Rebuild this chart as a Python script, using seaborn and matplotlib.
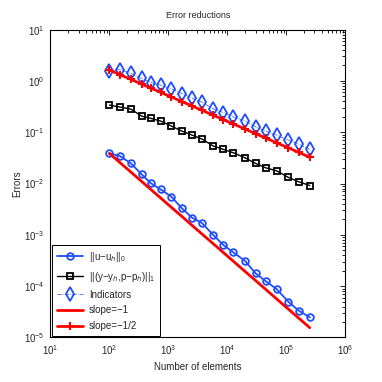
import matplotlib
matplotlib.use("Agg")
import matplotlib.pyplot as plt
import seaborn as sns
from matplotlib.ticker import LogLocator, NullFormatter

# element counts per refinement step
n_elements = [100, 151, 232, 352, 507, 740, 1124, 1700, 2510, 3710,
              5780, 8550, 12600, 19800, 30100, 44400, 68300, 108000, 163000, 250000]

err_l2 = [0.0387, 0.0343, 0.0247, 0.0151, 0.0101, 0.0077, 0.00553, 0.00329, 0.00216, 0.0017,
          0.000993, 0.000634, 0.000456, 0.000313, 0.000178, 0.000126, 8.8e-5, 4.98e-5, 3.33e-5, 2.47e-5]

err_h1 = [0.338, 0.309, 0.282, 0.206, 0.186, 0.165, 0.132, 0.105, 0.0881, 0.0736,
          0.0538, 0.0463, 0.0398, 0.0318, 0.0247, 0.0203, 0.0177, 0.0132, 0.0108, 0.00914]

indicators = [1.59, 1.66, 1.40, 1.12, 0.929, 0.830, 0.694, 0.567, 0.463, 0.386,
              0.285, 0.242, 0.200, 0.167, 0.128, 0.105, 0.0881, 0.0703, 0.0587, 0.0463]

slope_one = [0.0387, 0.0256, 0.0167, 0.0110, 0.00763, 0.00523, 0.00344, 0.00228, 0.00154, 0.00104,
             0.00067, 0.000453, 0.000307, 0.000195, 0.000129, 8.72e-5, 5.67e-5, 3.58e-5, 2.37e-5, 1.55e-5]

slope_half = [1.63, 1.326, 1.070, 0.869, 0.724, 0.599, 0.486, 0.395, 0.325, 0.268,
              0.214, 0.176, 0.145, 0.116, 0.094, 0.0774, 0.0624, 0.0496, 0.0404, 0.0326]

x_ticks = [1e1, 1e2, 1e3, 1e4, 1e5, 1e6]
y_ticks = [1e-5, 1e-4, 1e-3, 1e-2, 1e-1, 1e0, 1e1]

sns.set_style("white")
plt.rcParams["font.family"] = ["Liberation Sans", "DejaVu Sans"]
plt.rcParams["mathtext.fontset"] = "custom"
plt.rcParams["mathtext.rm"] = "Liberation Sans"

blue = "#1f4cff"

fig = plt.figure(figsize=(3.82, 3.82), dpi=100)
ax = fig.add_axes([0.132, 0.1165, 0.772, 0.806])

sns.lineplot(x=n_elements, y=err_l2, ax=ax, color=blue, lw=1.3, marker="o", ms=4.8,
             mfc="none", mec=blue, mew=1.3, label="||u\u2212u$_h$||$_0$")
sns.lineplot(x=n_elements, y=err_h1, ax=ax, color="black", lw=1.0, marker="s", ms=4.2,
             mfc="none", mec="black", mew=1.3, label="||(y\u2212y$_h$,p\u2212p$_h$)||$_1$")
sns.lineplot(x=n_elements, y=indicators, ax=ax, color=blue, lw=0.5, ls="-.", marker="d", ms=7,
             mfc="none", mec=blue, mew=1.3, label="Indicators")
sns.lineplot(x=n_elements, y=slope_one, ax=ax, color="red", lw=2.0, label="slope=\u22121")
sns.lineplot(x=n_elements, y=slope_half, ax=ax, color="red", lw=2.0, marker="+", ms=5.5,
             mew=1.5, mec="red", label="slope=\u22121/2")

ax.set_xscale("log")
ax.set_yscale("log")
ax.set_xlim(10, 1e6)
ax.set_ylim(1e-5, 10)

ax.set_xticks(x_ticks)
ax.set_yticks(y_ticks)
ax.xaxis.set_minor_locator(LogLocator(base=10, subs=range(2, 10), numticks=20))
ax.yaxis.set_minor_locator(LogLocator(base=10, subs=range(2, 10), numticks=20))
ax.xaxis.set_minor_formatter(NullFormatter())
ax.yaxis.set_minor_formatter(NullFormatter())

ax.tick_params(which="both", direction="in", top=True, right=True, labelsize=7,
               color="black", width=0.6)
ax.tick_params(which="major", length=3.5, pad=4)
ax.tick_params(which="minor", length=2)
for s in ax.spines.values():
    s.set_color("black")
    s.set_linewidth(0.8)

ax.set_title("Error reductions", fontsize=6.5, pad=8)
ax.set_xlabel("Number of elements", fontsize=7, labelpad=3.5)
ax.set_ylabel("Errors", fontsize=7, labelpad=1.5)

leg = ax.legend(loc="lower left", fontsize=7, frameon=True, fancybox=False,
                framealpha=1, edgecolor="black", borderaxespad=0.15,
                handlelength=2.7, handletextpad=0.6, labelspacing=0.6, borderpad=0.5)
leg.get_frame().set_linewidth(0.7)

fig.savefig("out.png", dpi=100)
